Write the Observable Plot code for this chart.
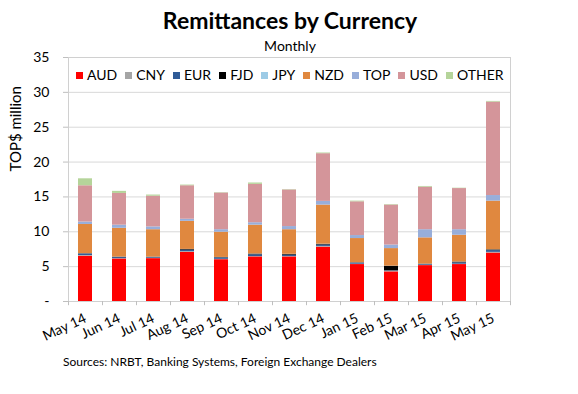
<!DOCTYPE html>
<html><head><meta charset="utf-8">
<script src="https://cdn.jsdelivr.net/npm/d3@7"></script>
<script src="https://cdn.jsdelivr.net/npm/@observablehq/plot@0.6"></script>
<style>
body{margin:0;background:#fff;font-family:Lato,"Open Sans",sans-serif;color:#000;}
#wrap{position:relative;width:578px;height:394px;overflow:hidden;}
#title{position:absolute;left:0;width:580px;top:6px;text-align:center;font-weight:bold;font-size:23px;line-height:28px;}
#sub{position:absolute;left:0;width:580px;top:37px;text-align:center;font-size:14px;line-height:18px;}
#chart{position:absolute;top:46px;left:0;}
#legend{position:absolute;top:67px;left:76px;display:flex;gap:8px;font-size:14px;line-height:16px;align-items:center;}
#legend .it{display:flex;align-items:center;gap:4px;}
#legend .sw{width:7px;height:7px;display:inline-block;}
#foot{position:absolute;left:63px;top:354px;font-size:12px;line-height:15px;}
</style></head>
<body>
<div id="wrap">
<div id="title">Remittances by Currency</div>
<div id="sub">Monthly</div>
<div id="chart"></div>
<div id="legend"></div>
<div id="foot">Sources: NRBT, Banking Systems, Foreign Exchange Dealers</div>
</div>
<script>
const months = ["May 14","Jun 14","Jul 14","Aug 14","Sep 14","Oct 14","Nov 14","Dec 14","Jan 15","Feb 15","Mar 15","Apr 15","May 15"];
const currencies = ["AUD","CNY","EUR","FJD","JPY","NZD","TOP","USD","OTHER"];
const colors = ["#FF0000","#A5A5A5","#2F5B97","#000000","#9DCBE6","#E0883F","#98AEDA","#D4959A","#B5D49A"];
const AUD   = [6.5, 6.1, 6.15, 7.05, 6.0, 6.4, 6.4, 7.8, 5.3, 4.25, 5.15, 5.3, 6.95];
const CNY   = [0.1, 0.05, 0.05, 0.1, 0.05, 0.05, 0.05, 0.1, 0.05, 0.1, 0.05, 0.05, 0.1];
const EUR   = [0.2, 0.15, 0.1, 0.2, 0.2, 0.25, 0.2, 0.2, 0.15, 0.05, 0.1, 0.2, 0.25];
const FJD   = [0.05, 0.05, 0.05, 0.1, 0.05, 0.1, 0.1, 0.1, 0.05, 0.65, 0.05, 0.1, 0.1];
const JPY   = [0.02, 0.02, 0.02, 0.02, 0.02, 0.02, 0.02, 0.02, 0.02, 0.02, 0.02, 0.02, 0.02];
const NZD   = [4.18, 4.13, 3.93, 4.03, 3.62, 4.13, 3.53, 5.61, 3.46, 2.52, 3.76, 3.83, 6.98];
const TOP   = [0.35, 0.45, 0.4, 0.3, 0.36, 0.35, 0.45, 0.53, 0.43, 0.51, 1.17, 0.8, 0.8];
const USD   = [5.2, 4.55, 4.4, 4.8, 5.26, 5.5, 5.25, 6.84, 4.84, 5.73, 6.1, 5.9, 13.4];
const OTHER = [1.0, 0.3, 0.17, 0.1, 0.05, 0.2, 0.05, 0.1, 0.1, 0.07, 0.1, 0.05, 0.1];
const yTicks = [0,5,10,15,20,25,30,35];
const yTitle = "TOP$ million";

const series = {AUD, CNY, EUR, FJD, JPY, NZD, TOP, USD, OTHER};
const data = [];
currencies.forEach(c => months.forEach((m, i) => data.push({month: m, currency: c, value: series[c][i]})));

const chart = Plot.plot({
  width: 578, height: 305,
  marginLeft: 68, marginRight: 68, marginTop: 11, marginBottom: 50,
  style: {fontFamily: "Lato, 'Open Sans', sans-serif", fontSize: "14px", color: "#000", background: "transparent"},
  x: {domain: months, paddingInner: 0.58, paddingOuter: 0.29, label: null},
  y: {domain: [0, 35], label: null},
  color: {domain: currencies, range: colors},
  marks: [
    Plot.gridY(yTicks.slice(1), {stroke: "#d9d9d9", strokeOpacity: 1}),
    Plot.frame({stroke: "#d0d0d0"}),
    Plot.barY(data, {x: "month", y: "value", fill: "currency", z: "currency", order: currencies}),
    Plot.axisY(yTicks, {tickFormat: d => d === 0 ? "-" : d, tickSize: 5, tickPadding: 14, stroke: "#bfbfbf", fill: "#000", fontSize: 14, label: null}),
    Plot.text([yTitle], {frameAnchor: "left", text: d => d, rotate: -90, dx: -52, dy: -8, fontSize: 15, fill: "#000"}),
    Plot.axisX({tickRotate: -25, tickSize: 0, tickPadding: 16, fontSize: 14, fill: "#000"}),
    Plot.ruleX(months, {x: d => d, y1: 0, y2: -0.6, dx: -17, stroke: "#bfbfbf"}),
    Plot.ruleX([months[months.length - 1]], {x: d => d, y1: 0, y2: -0.6, dx: 17, stroke: "#bfbfbf"})
  ]
});
document.getElementById("chart").appendChild(chart);

const lg = document.getElementById("legend");
currencies.forEach((c, i) => {
  const it = document.createElement("div");
  it.className = "it";
  const sw = document.createElement("span");
  sw.className = "sw";
  sw.style.background = colors[i];
  const t = document.createElement("span");
  t.textContent = c;
  it.appendChild(sw); it.appendChild(t);
  lg.appendChild(it);
});
</script>
</body></html>
